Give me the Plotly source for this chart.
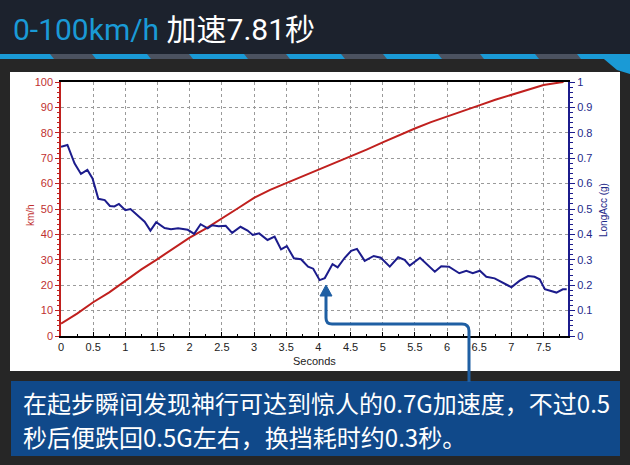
import plotly.graph_objects as go

# ---------------- data ----------------
speed_time = [0, 0.25, 0.5, 0.75, 1.0, 1.25, 1.5, 1.75, 2.0, 2.25, 2.5, 2.75, 3.0,
              3.25, 3.5, 3.75, 4.0, 4.25, 4.5, 4.75, 5.0, 5.25, 5.5, 5.75, 6.0,
              6.25, 6.5, 6.75, 7.0, 7.25, 7.5, 7.75, 7.81]
speed_kmh = [4.9, 8.8, 13.3, 17.2, 21.7, 26.2, 30.3, 34.6, 38.7, 42.3, 46.2, 50.3, 54.4,
             57.5, 60.2, 62.8, 65.3, 67.9, 70.6, 73.4, 76.2, 79.0, 81.7, 84.2, 86.5,
             88.7, 90.8, 93.0, 95.0, 97.0, 98.8, 99.8, 100.0]

acc_time = [0.00, 0.10, 0.21, 0.31, 0.41, 0.49, 0.58, 0.68, 0.76, 0.83, 0.90, 1.00,
            1.08, 1.17, 1.30, 1.39, 1.48, 1.61, 1.71, 1.82, 1.97, 2.07, 2.17, 2.28,
            2.35, 2.45, 2.56, 2.66, 2.79, 2.90, 2.98, 3.08, 3.21, 3.32, 3.42, 3.51,
            3.62, 3.73, 3.84, 3.92, 4.02, 4.10, 4.22, 4.30, 4.41, 4.51, 4.60, 4.72,
            4.86, 4.97, 5.11, 5.24, 5.34, 5.42, 5.58, 5.81, 5.91, 6.03, 6.19, 6.30,
            6.40, 6.51, 6.61, 6.74, 6.89, 7.00, 7.13, 7.26, 7.36, 7.44, 7.52, 7.62,
            7.70, 7.80, 7.86]
long_acc_g = [0.745, 0.752, 0.680, 0.638, 0.654, 0.620, 0.540, 0.535, 0.512, 0.510, 0.520, 0.495,
              0.500, 0.478, 0.450, 0.415, 0.448, 0.425, 0.420, 0.424, 0.418, 0.402, 0.440, 0.424,
              0.436, 0.432, 0.434, 0.406, 0.430, 0.415, 0.398, 0.404, 0.378, 0.391, 0.341, 0.354,
              0.306, 0.302, 0.273, 0.265, 0.220, 0.228, 0.283, 0.270, 0.308, 0.335, 0.343, 0.296,
              0.315, 0.308, 0.273, 0.310, 0.300, 0.277, 0.308, 0.253, 0.275, 0.273, 0.247, 0.257,
              0.247, 0.257, 0.233, 0.227, 0.207, 0.192, 0.218, 0.236, 0.233, 0.223, 0.184, 0.178,
              0.171, 0.184, 0.184]

x_tick_vals = [0, 0.5, 1, 1.5, 2, 2.5, 3, 3.5, 4, 4.5, 5, 5.5, 6, 6.5, 7, 7.5]
x_tick_text = ["0", "0.5", "1", "1.5", "2", "2.5", "3", "3.5", "4", "4.5", "5", "5.5",
               "6", "6.5", "7", "7.5"]

title_blue = "0-100km/h"
title_white = "加速7.81秒"
caption_lines = ["在起步瞬间发现神行可达到惊人的0.7G加速度，不过0.5",
                 "秒后便跌回0.5G左右，换挡耗时约0.3秒。"]
x_title = "Seconds"
y_title = "km/h"
y2_title = "LongAcc (g)"

# ---------------- helpers ----------------
W, H = 630, 465


def px(x):
    return x / W


def py(y):
    return 1 - y / H


def poly(points):
    return "M " + " L ".join(f"{px(x):.5f},{py(y):.5f}" for x, y in points) + " Z"


RED = "#c0201e"
NAVY = "#1c1c8c"
GRID = "#9a9a9a"

fig = go.Figure()
fig.add_trace(go.Scatter(x=speed_time, y=speed_kmh, mode="lines",
                         line=dict(color=RED, width=2), yaxis="y", showlegend=False,
                         hoverinfo="skip"))
fig.add_trace(go.Scatter(x=acc_time, y=long_acc_g, mode="lines",
                         line=dict(color=NAVY, width=2), yaxis="y2", showlegend=False,
                         hoverinfo="skip"))

shapes = []
# title bar
shapes.append(dict(type="rect", xref="paper", yref="paper", x0=0, x1=1, y0=py(54), y1=1,
                   fillcolor="#1c222d", line=dict(width=0), layer="below"))
# stripe
shapes.append(dict(type="rect", xref="paper", yref="paper", x0=0, x1=px(604), y0=py(59), y1=py(54),
                   fillcolor="#1a9ad6", line=dict(width=0), layer="below"))
for k in range(6):
    a = 50 + 97 * k
    shapes.append(dict(type="path", xref="paper", yref="paper",
                       path=poly([(a, 54), (a + 42, 54), (a + 46, 59), (a + 4, 59)]),
                       fillcolor="#4b5260", line=dict(width=0), layer="below"))
shapes.append(dict(type="path", xref="paper", yref="paper",
                   path=poly([(598, 54), (630, 54), (630, 74), (617, 70)]),
                   fillcolor="#1a9ad6", line=dict(width=0), layer="below"))
# white chart panel
shapes.append(dict(type="rect", xref="paper", yref="paper", x0=px(10), x1=px(620), y0=py(371), y1=py(72),
                   fillcolor="white", line=dict(width=0), layer="below"))
# caption box
shapes.append(dict(type="rect", xref="paper", yref="paper", x0=px(11), x1=px(620), y0=py(456), y1=py(381),
                   fillcolor="#10498a", line=dict(width=0), layer="below"))
# callout line
CALL = "#1f5fa3"
path = (f"M {px(326):.5f},{py(292):.5f} L {px(326):.5f},{py(318):.5f} "
        f"Q {px(326):.5f},{py(324):.5f} {px(332):.5f},{py(324):.5f} "
        f"L {px(462):.5f},{py(324):.5f} "
        f"Q {px(469):.5f},{py(324):.5f} {px(469):.5f},{py(331):.5f} "
        f"L {px(469):.5f},{py(382):.5f}")
shapes.append(dict(type="path", xref="paper", yref="paper", path=path,
                   line=dict(color=CALL, width=3), layer="above"))
shapes.append(dict(type="path", xref="paper", yref="paper",
                   path=poly([(320, 296), (332, 296), (326, 285)]),
                   fillcolor=CALL, line=dict(color=CALL, width=1), layer="above"))

axis_title_font = "Liberation Sans, Arial"
annotations = [
    dict(xref="paper", yref="paper", x=px(11), y=py(30), xanchor="left", yanchor="middle",
         text=f"<span style='color:#1a9ad6'>{title_blue}</span> {title_white}",
         showarrow=False, font=dict(family="Roboto, Noto Sans CJK SC", size=30, color="white")),
    dict(xref="paper", yref="paper", x=px(21), y=py(402), xanchor="left", yanchor="middle",
         text=caption_lines[0], showarrow=False,
         font=dict(family="Noto Sans CJK SC", size=24, color="white")),
    dict(xref="paper", yref="paper", x=px(21), y=py(436), xanchor="left", yanchor="middle",
         text=caption_lines[1], showarrow=False,
         font=dict(family="Noto Sans CJK SC", size=24, color="white")),
    dict(xref="paper", yref="paper", x=px(314), y=py(361), xanchor="center", yanchor="middle",
         text=x_title, showarrow=False,
         font=dict(family=axis_title_font, size=11, color="#222")),
    dict(xref="paper", yref="paper", x=px(30), y=py(215), xanchor="center", yanchor="middle",
         text=y_title, showarrow=False, textangle=-90,
         font=dict(family=axis_title_font, size=10, color="#c03030")),
    dict(xref="paper", yref="paper", x=px(603), y=py(210), xanchor="center", yanchor="middle",
         text=y2_title, showarrow=False, textangle=-90,
         font=dict(family=axis_title_font, size=10, color="#1e2a8a")),
]

tick_font = dict(family="Liberation Sans, Arial", size=11)

fig.update_layout(
    width=W, height=H,
    margin=dict(l=0, r=0, t=0, b=0),
    paper_bgcolor="#262626",
    plot_bgcolor="white",
    showlegend=False,
    shapes=shapes,
    annotations=annotations,
    xaxis=dict(
        domain=[px(61), px(568)], range=[0, 7.88],
        tickvals=x_tick_vals, ticktext=x_tick_text,
        showgrid=True, gridcolor=GRID, griddash="3px,3px", gridwidth=1,
        showline=True, linecolor="black", linewidth=1.5, mirror=True,
        ticks="inside", ticklen=4, tickcolor="black",
        minor=dict(dtick=0.25, tick0=0, ticks="inside", ticklen=2, tickcolor="black", showgrid=False),
        tickfont=dict(color="#222", **tick_font),
        zeroline=False, automargin=False,
    ),
    yaxis=dict(
        domain=[py(336), py(82)], range=[0, 100],
        tickmode="linear", tick0=0, dtick=10,
        showgrid=True, gridcolor=GRID, griddash="3px,3px", gridwidth=1,
        showline=True, linecolor=RED, linewidth=1.5,
        ticks="outside", ticklen=4, tickcolor=RED,
        minor=dict(dtick=2, ticks="outside", ticklen=2, tickcolor=RED, showgrid=False),
        tickfont=dict(color="#c03030", **tick_font),
        zeroline=False, automargin=False,
    ),
    yaxis2=dict(
        overlaying="y", side="right", anchor="x", range=[0, 1],
        tickmode="linear", tick0=0, dtick=0.1,
        showgrid=False,
        showline=True, linecolor=NAVY, linewidth=2,
        ticks="outside", ticklen=5, tickcolor=NAVY,
        minor=dict(dtick=0.02, ticks="outside", ticklen=3, tickcolor=NAVY, showgrid=False),
        tickfont=dict(color="#1e2a8a", **tick_font),
        zeroline=False, automargin=False,
    ),
)

fig.write_html("out.html", config={"displayModeBar": False},
               post_script="document.body.style.margin='0';document.body.style.background='#262626';")
